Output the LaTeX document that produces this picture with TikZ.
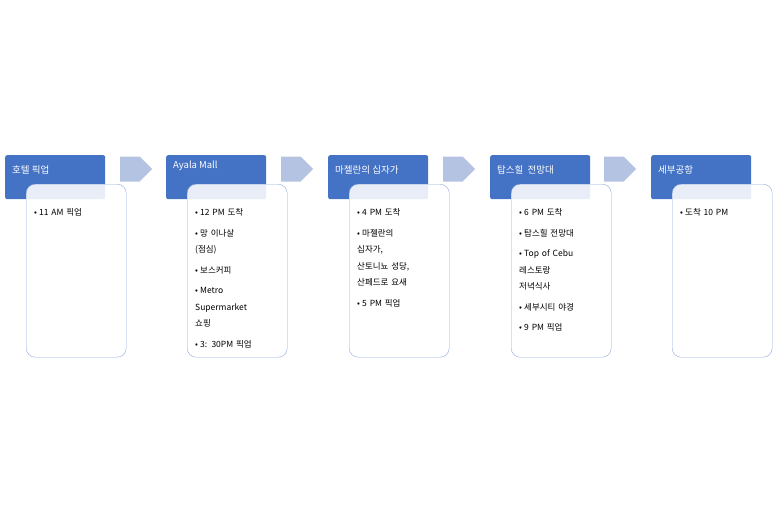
\documentclass[tikz,border=0pt]{standalone}
\usepackage{fontspec}
\setmainfont{Noto Sans CJK KR}
\usetikzlibrary{positioning,shapes.arrows}
\definecolor{hdrblue}{RGB}{68,114,196}
\definecolor{cardline}{RGB}{143,170,220}
\definecolor{arrowblue}{RGB}{180,195,226}
\newcommand\itm[1]{\par\hangindent=5pt\hangafter=1\makebox[5pt][l]{•}#1}
\tikzset{
  hdr/.style={fill=hdrblue, rounded corners=2pt, minimum width=100pt, minimum height=44pt, anchor=north west},
  hdrtext/.style={text=white, font=\fontsize{9.5}{11}\selectfont, anchor=west, inner sep=0pt},
  card/.style={draw=cardline, fill=white, fill opacity=0.88, rounded corners=9pt, minimum width=100pt, minimum height=173pt, anchor=north west},
  cardtext/.style={anchor=north west, text width=86pt, inner sep=0pt, align=left,
    font=\fontsize{8.5}{16.5}\selectfont\setlength{\parskip}{4pt}},
  stepper/.style={single arrow, fill=arrowblue, minimum height=32pt, minimum width=25pt,
    single arrow head extend=0pt, inner sep=0pt, anchor=west}
}
\begin{document}
\begin{tikzpicture}[x=1pt, y=-1pt]
  \useasboundingbox (0,0) rectangle (773,512);

  % hotel pickup
  \node[hdr] (h1) at (5,155) {};
  \node[hdrtext] at (12,170) {호텔 픽업};
  \node[card] (c1) at (26,184) {};
  \node[cardtext] (t1) at (34,195) {\itm{11 AM 픽업}};

  % Ayala Mall
  \node[hdr] (h2) at (166,155) {};
  \node[hdrtext] at (173,166) {Ayala Mall};
  \node[card] (c2) at (187,184) {};
  \node[cardtext] (t2) at (195,195) {\itm{12 PM 도착}\itm{망 이나살\\ (점심)}\itm{보스커피}%
    \itm{Metro\\Supermarket\\쇼핑}\itm{3: 30PM 픽업}};

  % Magellan's cross
  \node[hdr] (h3) at (328,155) {};
  \node[hdrtext] at (335,170) {마젤란의 십자가};
  \node[card] (c3) at (349,184) {};
  \node[cardtext] (t3) at (357,195) {\itm{4 PM 도착}\itm{마젤란의\\ 십자가,\\ 산토니뇨 성당,\\ 산페드로 요새}\itm{5 PM 픽업}};

  % Tops
  \node[hdr] (h4) at (490,155) {};
  \node[hdrtext] at (497,170) {탑스힐\ \ 전망대};
  \node[card] (c4) at (511,184) {};
  \node[cardtext] (t4) at (519,195) {\itm{6 PM 도착}\itm{탑스힐 전망대}\itm{Top of Cebu\\ 레스토랑\\ 저녁식사}%
    \itm{세부시티 야경}\itm{9 PM 픽업}};

  % airport
  \node[hdr] (h5) at (651,155) {};
  \node[hdrtext] at (658,170) {세부공항};
  \node[card] (c5) at (672,184) {};
  \node[cardtext] (t5) at (680,195) {\itm{도착 10 PM}};

  % arrows
  \node[stepper] (a1) at (120,169) {};
  \node[stepper] (a2) at (281,169) {};
  \node[stepper] (a3) at (443,169) {};
  \node[stepper] (a4) at (604,169) {};
\end{tikzpicture}
\end{document}
